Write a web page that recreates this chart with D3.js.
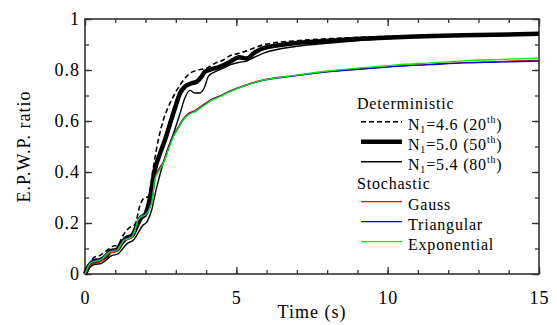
<!DOCTYPE html>
<html>
<head>
<meta charset="utf-8">
<script src="https://cdn.jsdelivr.net/npm/d3@7"></script>
<style>
  body { margin: 0; background: #fff; }
</style>
</head>
<body>
<div id="chart"></div>
<script>
// time (s) and E.P.W.P. ratio
const detTime46 = [0, 0.15, 0.3, 0.5, 0.7, 0.88, 1.1, 1.25, 1.45, 1.65, 1.82, 1.95, 2.09, 2.26, 2.42, 2.59, 2.81, 3.03, 3.25, 3.47, 3.74, 4.02, 4.29, 4.57, 4.79, 5.1, 5.34, 5.9, 7, 8.1, 10.3, 12.5, 15];
const detRatio46 = [0, 0.04, 0.065, 0.073, 0.09, 0.107, 0.115, 0.15, 0.18, 0.195, 0.27, 0.298, 0.303, 0.42, 0.525, 0.604, 0.67, 0.72, 0.76, 0.787, 0.8, 0.807, 0.826, 0.839, 0.856, 0.866, 0.875, 0.899, 0.915, 0.923, 0.933, 0.938, 0.943];

const detTime50 = [0, 0.15, 0.3, 0.5, 0.7, 0.85, 1.05, 1.2, 1.35, 1.55, 1.7, 1.85, 2.0, 2.15, 2.31, 2.48, 2.64, 2.81, 2.97, 3.14, 3.3, 3.52, 3.69, 3.85, 3.96, 4.19, 4.46, 4.79, 5.1, 5.34, 5.6, 5.9, 7, 8.1, 10.3, 12.5, 15];
const detRatio50 = [0, 0.035, 0.05, 0.055, 0.07, 0.09, 0.095, 0.12, 0.14, 0.15, 0.185, 0.22, 0.235, 0.3, 0.41, 0.473, 0.525, 0.59, 0.65, 0.709, 0.735, 0.748, 0.754, 0.774, 0.793, 0.803, 0.813, 0.832, 0.85, 0.845, 0.868, 0.886, 0.906, 0.915, 0.928, 0.936, 0.942];

const detTime54 = [0, 0.15, 0.3, 0.55, 0.7, 0.85, 1.1, 1.25, 1.4, 1.6, 1.75, 1.9, 2.05, 2.2, 2.35, 2.5, 2.7, 2.92, 3.14, 3.3, 3.47, 3.63, 3.8, 3.96, 4.07, 4.29, 4.57, 4.79, 5.1, 5.34, 5.6, 5.9, 7, 8.1, 10.3, 12.5, 15];
const detRatio54 = [0, 0.025, 0.037, 0.042, 0.055, 0.07, 0.08, 0.1, 0.12, 0.133, 0.16, 0.19, 0.205, 0.25, 0.33, 0.4, 0.48, 0.55, 0.63, 0.69, 0.72, 0.71, 0.71, 0.735, 0.774, 0.793, 0.807, 0.82, 0.83, 0.835, 0.85, 0.866, 0.893, 0.906, 0.925, 0.935, 0.94];

const stoTime = [0, 0.13, 0.24, 0.41, 0.57, 0.68, 0.79, 0.96, 1.07, 1.18, 1.29, 1.45, 1.56, 1.67, 1.75, 1.86, 2.0, 2.11, 2.22, 2.31, 2.42, 2.59, 2.75, 2.92, 3.08, 3.25, 3.41, 3.63, 3.8, 3.96, 4.19, 4.46, 4.79, 5.34, 5.89, 6.99, 8.09, 9.19, 10.3, 11.4, 12.5, 13.6, 15];
const gaussRatio = [0, 0.028, 0.04, 0.044, 0.052, 0.068, 0.08, 0.086, 0.09, 0.11, 0.13, 0.137, 0.144, 0.178, 0.212, 0.226, 0.233, 0.253, 0.295, 0.375, 0.408, 0.44, 0.492, 0.543, 0.576, 0.609, 0.629, 0.641, 0.655, 0.668, 0.686, 0.699, 0.718, 0.743, 0.761, 0.779, 0.795, 0.805, 0.815, 0.822, 0.829, 0.833, 0.838];
const triRatio = [0, 0.036, 0.05, 0.054, 0.062, 0.078, 0.088, 0.093, 0.097, 0.117, 0.136, 0.143, 0.149, 0.182, 0.215, 0.228, 0.234, 0.253, 0.292, 0.371, 0.403, 0.437, 0.489, 0.54, 0.573, 0.606, 0.626, 0.638, 0.652, 0.665, 0.684, 0.697, 0.716, 0.741, 0.759, 0.778, 0.794, 0.804, 0.814, 0.821, 0.828, 0.831, 0.835];
const expRatio = [0, 0.035, 0.048, 0.051, 0.059, 0.075, 0.085, 0.09, 0.094, 0.114, 0.133, 0.14, 0.146, 0.179, 0.212, 0.225, 0.231, 0.25, 0.29, 0.369, 0.4, 0.434, 0.486, 0.538, 0.571, 0.604, 0.624, 0.636, 0.65, 0.663, 0.682, 0.695, 0.715, 0.741, 0.76, 0.78, 0.797, 0.809, 0.82, 0.828, 0.836, 0.841, 0.846];

const xMajorTicks = [0, 5, 10, 15];
const yMajorTicks = [0, 0.2, 0.4, 0.6, 0.8, 1];

const series = [
    { label: ['N', '1', '=4.6 (20', 'th', ')'], time: detTime46, ratio: detRatio46, color: '#000', width: 1.6, dash: '5,3' },
    { label: ['N', '1', '=5.0 (50', 'th', ')'], time: detTime50, ratio: detRatio50, color: '#000', width: 4.5, dash: null },
    { label: ['N', '1', '=5.4 (80', 'th', ')'], time: detTime54, ratio: detRatio54, color: '#000', width: 1.4, dash: null },
    { label: 'Gauss', time: stoTime, ratio: gaussRatio, color: '#ff0000', width: 1.3, dash: null },
    { label: 'Triangular', time: stoTime, ratio: triRatio, color: '#0000ff', width: 1.3, dash: null },
    { label: 'Exponential', time: stoTime, ratio: expRatio, color: '#00ee00', width: 1.3, dash: null }
];

const FONT = '"Liberation Serif", "Times New Roman", Times, "DejaVu Serif", serif';

const width = 557;
const height = 325;
const margin = { top: 19, right: 18, bottom: 51, left: 85 };
const plotW = width - margin.left - margin.right;
const plotH = height - margin.top - margin.bottom;

const svg = d3.select('#chart').append('svg')
    .attr('width', width)
    .attr('height', height)
    .style('font-family', FONT);

const g = svg.append('g')
    .attr('transform', `translate(${margin.left},${margin.top})`);

const xScale = d3.scaleLinear().domain([0, 15]).range([0, plotW]);
const yScale = d3.scaleLinear().domain([0, 1]).range([plotH, 0]);

const axisColor = '#333';
const xMinor = d3.range(0, 15.01, 1);
const yMinor = d3.range(0, 1.001, 0.1);

function styleAxis(sel) {
    sel.attr('font-family', null).attr('font-size', null);
    sel.select('.domain').remove();
    sel.selectAll('line').attr('stroke', axisColor).attr('stroke-width', 1.3);
    sel.selectAll('text')
        .style('font-family', FONT)
        .style('font-size', '18px')
        .style('letter-spacing', '1px')
        .attr('fill', '#000');
}

// minor ticks on all four sides (inward)
g.append('g').attr('transform', `translate(0,${plotH})`)
    .call(d3.axisBottom(xScale).tickValues(xMinor).tickSize(-4).tickFormat(''))
    .call(styleAxis);
g.append('g')
    .call(d3.axisTop(xScale).tickValues(xMinor).tickSize(-4).tickFormat(''))
    .call(styleAxis);
g.append('g')
    .call(d3.axisLeft(yScale).tickValues(yMinor).tickSize(-4).tickFormat(''))
    .call(styleAxis);
g.append('g').attr('transform', `translate(${plotW},0)`)
    .call(d3.axisRight(yScale).tickValues(yMinor).tickSize(-4).tickFormat(''))
    .call(styleAxis);

// major ticks
g.append('g').attr('transform', `translate(0,${plotH})`)
    .call(d3.axisBottom(xScale).tickValues(xMajorTicks).tickSize(-7).tickPadding(17).tickFormat(d3.format('d')))
    .call(styleAxis);
g.append('g')
    .call(d3.axisTop(xScale).tickValues(xMajorTicks).tickSize(-7).tickFormat(''))
    .call(styleAxis);
g.append('g')
    .call(d3.axisLeft(yScale).tickValues(yMajorTicks).tickSize(-7).tickPadding(5).tickFormat(d => d === 0 || d === 1 ? d3.format('d')(d) : d3.format('.1f')(d)))
    .call(styleAxis);
g.append('g').attr('transform', `translate(${plotW},0)`)
    .call(d3.axisRight(yScale).tickValues(yMajorTicks).tickSize(-7).tickFormat(''))
    .call(styleAxis);

// frame
g.append('rect')
    .attr('width', plotW)
    .attr('height', plotH)
    .attr('fill', 'none')
    .attr('stroke', axisColor)
    .attr('stroke-width', 1.6);

// curves
const line = d3.line()
    .x(d => xScale(d[0]))
    .y(d => yScale(d[1]))
    .curve(d3.curveMonotoneX);

series.forEach(s => {
    g.append('path')
        .datum(s.time.map((t, i) => [t, s.ratio[i]]))
        .attr('fill', 'none')
        .attr('stroke', s.color)
        .attr('stroke-width', s.width)
        .attr('stroke-dasharray', s.dash)
        .attr('stroke-linejoin', 'round')
        .attr('d', line);
});

// axis titles
svg.append('text')
    .attr('x', margin.left + plotW / 2)
    .attr('y', 318)
    .attr('text-anchor', 'middle')
    .style('font-size', '18px')
    .style('letter-spacing', '1px')
    .text('Time (s)');

svg.append('text')
    .attr('transform', `translate(30,${margin.top + plotH / 2}) rotate(-90)`)
    .attr('text-anchor', 'middle')
    .style('font-size', '18px')
    .style('letter-spacing', '1px')
    .text('E.P.W.P. ratio');

// legend
const legend = svg.append('g').attr('transform', 'translate(357,0)');
const rowY = i => 101.7 + i * 20;
const headings = [{ text: 'Deterministic', row: 0 }, { text: 'Stochastic', row: 4 }];
headings.forEach(h => {
    legend.append('text')
        .attr('x', 0)
        .attr('y', rowY(h.row) + 7.5)
        .style('font-size', '16px')
        .style('letter-spacing', '0.8px')
        .text(h.text);
});

series.forEach((s, i) => {
    const row = i < 3 ? i + 1 : i + 2;
    const y = rowY(row);
    legend.append('line')
        .attr('x1', 4).attr('x2', 45)
        .attr('y1', y).attr('y2', y)
        .attr('stroke', s.color)
        .attr('stroke-width', s.width)
        .attr('stroke-dasharray', s.dash);
    const t = legend.append('text')
        .attr('x', 51)
        .attr('y', y + 8)
        .style('font-size', '16px')
        .style('letter-spacing', '0.8px');
    if (typeof s.label === 'string') {
        t.text(s.label);
    } else {
        t.append('tspan').text(s.label[0]);
        t.append('tspan').style('font-size', '10px').attr('dy', 3).text(s.label[1]);
        t.append('tspan').attr('dy', -3).text(s.label[2]);
        t.append('tspan').style('font-size', '10px').attr('dy', -7).text(s.label[3]);
        t.append('tspan').attr('dy', 7).text(s.label[4]);
    }
});
</script>
</body>
</html>
